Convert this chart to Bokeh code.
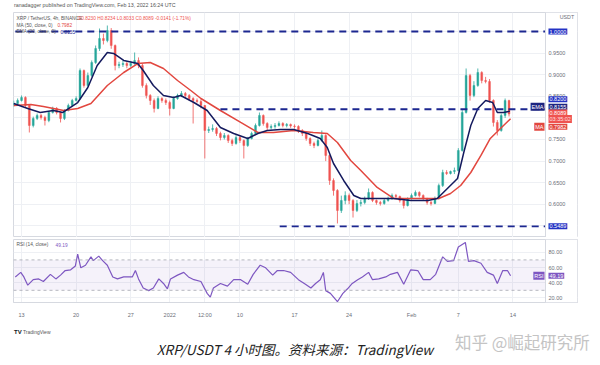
from bokeh.plotting import figure
from bokeh.layouts import column
from bokeh.models import Range1d, FixedTicker, Label, Span, BoxAnnotation, ColumnDataSource, Div
from bokeh.embed import file_html
from bokeh.resources import INLINE

# ---------------- data ----------------
# 12-hour candles, day 0 = 13 Dec 2021 00:00
candle_start_day = -1.0
candle_step_day = 0.5
first_open = 0.8310
closes = [
    0.8333, 0.8403, 0.8472, 0.8287, 0.7824, 0.7986, 0.8056, 0.8009, 0.7940, 0.8125,
    0.8218, 0.8125, 0.7986, 0.8171, 0.8287, 0.8403, 0.8449, 0.9097, 0.8750, 0.8981,
    0.9282, 0.9606, 0.9838, 0.9792, 1.0023, 0.9676, 0.9213, 0.9236, 0.9259, 0.9213,
    0.9259, 0.9329, 0.9213, 0.8750, 0.8519, 0.8403, 0.8218, 0.8449, 0.8403, 0.8356,
    0.8218, 0.8449, 0.8519, 0.8565, 0.8519, 0.8449, 0.8403, 0.8380, 0.8287, 0.7708,
    0.7731, 0.7755, 0.7639, 0.7546, 0.7593, 0.7477, 0.7407, 0.7546, 0.7477, 0.7361,
    0.7523, 0.7639, 0.7824, 0.8056, 0.7870, 0.7778, 0.7801, 0.7824, 0.7870, 0.7824,
    0.7847, 0.7812, 0.7801, 0.7708, 0.7639, 0.7523, 0.7407, 0.7361, 0.7477, 0.7593,
    0.7130, 0.6551, 0.6319, 0.5856, 0.6088, 0.6204, 0.6088, 0.5856, 0.6019, 0.6042,
    0.6134, 0.6273, 0.6088, 0.6042, 0.6019, 0.6088, 0.6134, 0.6204, 0.6181, 0.6088,
    0.5972, 0.6134, 0.6204, 0.6273, 0.6204, 0.6134, 0.6042, 0.6019, 0.6134, 0.6435,
    0.6736, 0.6713, 0.6759, 0.6782, 0.7245, 0.8125, 0.8981, 0.8519, 0.8750, 0.9051,
    0.8866, 0.8843, 0.8403, 0.7894, 0.7708, 0.8056, 0.8403, 0.8089]
highs = [
    0.8400, 0.8450, 0.8519, 0.8500, 0.8300, 0.8030, 0.8100, 0.8090, 0.8050, 0.8160,
    0.8260, 0.8250, 0.8150, 0.8200, 0.8330, 0.8440, 0.8500, 0.9144, 0.9120, 0.9050,
    0.9330, 0.9676, 1.0069, 0.9950, 1.0139, 1.0080, 0.9700, 0.9300, 0.9330, 0.9300,
    0.9320, 0.9514, 0.9400, 0.9250, 0.8800, 0.8550, 0.8450, 0.8500, 0.8480, 0.8450,
    0.8400, 0.8500, 0.8560, 0.8620, 0.8600, 0.8550, 0.8480, 0.8450, 0.8430, 0.8300,
    0.7800, 0.7850, 0.7790, 0.7680, 0.7650, 0.7620, 0.7520, 0.7600, 0.7580, 0.7500,
    0.7560, 0.7680, 0.7870, 0.8125, 0.8080, 0.7900, 0.7850, 0.7880, 0.7920, 0.7900,
    0.7880, 0.7870, 0.7850, 0.7830, 0.7740, 0.7660, 0.7550, 0.7450, 0.7520, 0.7708,
    0.7620, 0.7150, 0.6600, 0.6350, 0.6200, 0.6300, 0.6250, 0.6120, 0.6100, 0.6100,
    0.6180, 0.6366, 0.6300, 0.6110, 0.6080, 0.6130, 0.6180, 0.6250, 0.6240, 0.6200,
    0.6110, 0.6160, 0.6250, 0.6320, 0.6300, 0.6230, 0.6150, 0.6080, 0.6180, 0.6480,
    0.6800, 0.6790, 0.6780, 0.6850, 0.7300, 0.8180, 0.9144, 0.9020, 0.8850, 0.9144,
    0.9080, 0.8950, 0.8900, 0.8430, 0.7950, 0.8100, 0.8449, 0.8420]
lows = [
    0.8260, 0.8300, 0.8380, 0.8250, 0.7662, 0.7780, 0.7950, 0.7960, 0.7824, 0.7900,
    0.8100, 0.8080, 0.7894, 0.7950, 0.8150, 0.8260, 0.8380, 0.8420, 0.8700, 0.8720,
    0.8950, 0.9250, 0.9550, 0.9700, 0.9750, 0.9600, 0.9100, 0.9150, 0.9180, 0.9150,
    0.9180, 0.9230, 0.9150, 0.8700, 0.8450, 0.8300, 0.8125, 0.8200, 0.8350, 0.8300,
    0.8056, 0.8200, 0.8420, 0.8480, 0.8470, 0.8400, 0.7870, 0.8350, 0.8220, 0.7060,
    0.7650, 0.7680, 0.7580, 0.7480, 0.7500, 0.7420, 0.7350, 0.7380, 0.7420, 0.7060,
    0.7330, 0.7500, 0.7600, 0.7800, 0.7820, 0.7720, 0.7730, 0.7750, 0.7800, 0.7780,
    0.7780, 0.7770, 0.7750, 0.7650, 0.7580, 0.7470, 0.7350, 0.7300, 0.7340, 0.7450,
    0.7000, 0.6450, 0.6200, 0.5556, 0.5800, 0.6000, 0.6000, 0.5694, 0.5820, 0.5950,
    0.6000, 0.6100, 0.6050, 0.5990, 0.5970, 0.5990, 0.6060, 0.6100, 0.6130, 0.6040,
    0.5903, 0.5950, 0.6110, 0.6180, 0.6160, 0.6090, 0.5990, 0.5970, 0.6000, 0.6110,
    0.6400, 0.6680, 0.6690, 0.6700, 0.6760, 0.7220, 0.8100, 0.8400, 0.8480, 0.8720,
    0.8800, 0.8800, 0.8350, 0.7800, 0.7593, 0.7680, 0.8000, 0.8033]

ema_days = [-1.0, 0.8, 2.4, 4.1, 5.3, 7.2, 8.5, 9.7, 11.0, 11.8, 13.1, 14.9, 15.6, 16.9, 18.2,
            19.5, 20.4, 22.1, 23.8, 25.5, 27.2, 29.0, 30.3, 31.5, 33.2, 34.9, 36.7, 38.3, 39.2,
            40.0, 41.3, 42.6, 43.5, 45.1, 47.7, 49.9, 52.1, 53.3, 54.6, 55.9, 56.7, 57.6, 58.5,
            59.5, 60.4, 61.0, 61.8, 62.6]
ema_vals = [0.8333, 0.8218, 0.8125, 0.8171, 0.8125, 0.8356, 0.8704, 0.9213, 0.9514, 0.9491,
            0.9329, 0.9259, 0.9097, 0.8750, 0.8519, 0.8472, 0.8519, 0.8356, 0.8171, 0.7778,
            0.7639, 0.7523, 0.7639, 0.7708, 0.7732, 0.7732, 0.7639, 0.7523, 0.7315, 0.6944,
            0.6551, 0.6204, 0.6134, 0.6134, 0.6134, 0.6088, 0.6088, 0.6134, 0.6366, 0.6597,
            0.7199, 0.7824, 0.8218, 0.8403, 0.8356, 0.8125, 0.8125, 0.8155]
ma_days = [-1.0, 1.2, 2.8, 5.4, 7.2, 8.9, 11.0, 13.1, 14.9, 16.5, 18.2, 20.0, 21.7, 23.0, 25.5,
           28.1, 30.3, 32.3, 34.9, 37.4, 39.2, 40.5, 42.2, 43.5, 45.6, 47.7, 49.9, 52.1, 53.5,
           55.0, 56.3, 57.6, 58.9, 60.1, 61.4, 62.7]
ma_vals = [0.8287, 0.8310, 0.8264, 0.8171, 0.8218, 0.8333, 0.8750, 0.9051, 0.9259, 0.9282,
           0.9144, 0.8866, 0.8634, 0.8449, 0.8171, 0.7894, 0.7662, 0.7662, 0.7708, 0.7662,
           0.7639, 0.7431, 0.7014, 0.6782, 0.6389, 0.6134, 0.6134, 0.6134, 0.6134, 0.6250,
           0.6435, 0.6736, 0.7130, 0.7524, 0.7755, 0.7982]

rsi_days = [-0.8, -0.1, 0.3, 0.8, 1.5, 2.2, 2.8, 3.7, 4.4, 5.0,
            5.6, 6.3, 6.9, 7.2, 7.6, 8.2, 8.9, 9.2, 9.9, 10.4,
            11.0, 11.7, 12.3, 13.1, 14.2, 14.6, 15.0, 15.6, 16.3, 16.9,
            17.6, 18.2, 18.7, 19.1, 20.0, 20.8, 21.4, 22.1, 23.0, 23.8,
            24.2, 24.6, 25.5, 26.4, 27.2, 28.1, 29.0, 29.7, 30.6, 31.3,
            32.2, 32.8, 33.6, 34.5, 35.5, 36.4, 37.1, 37.7, 38.3, 38.7,
            39.0, 39.6, 40.5, 41.2, 41.8, 42.4, 43.1, 43.7, 44.5, 45.0,
            45.8, 46.7, 47.3, 48.2, 49.0, 49.9, 50.8, 51.5, 52.4, 53.1,
            54.0, 54.6, 55.4, 56.0, 56.9, 57.3, 58.0, 58.9, 59.7, 60.5,
            61.0, 61.7, 62.3, 62.7]
rsi_vals = [47.6, 53.6, 47.6, 36.8, 44.0, 45.0, 41.6, 51.0, 45.0, 50.0,
            56.0, 57.0, 62.0, 77.6, 59.6, 63.0, 74.0, 69.0, 75.0, 69.0,
            63.0, 47.6, 45.0, 47.6, 47.6, 56.0, 45.0, 33.0, 29.6, 33.0,
            45.0, 39.0, 32.0, 45.0, 50.0, 53.6, 47.6, 44.0, 41.6, 26.0,
            21.0, 33.0, 39.0, 35.6, 44.0, 44.0, 38.0, 51.0, 63.0, 59.6,
            50.0, 56.0, 56.0, 53.6, 44.0, 38.0, 33.0, 39.0, 44.0, 53.6,
            29.6, 26.0, 15.0, 26.0, 32.0, 39.0, 44.0, 47.6, 53.6, 44.0,
            45.0, 47.6, 51.0, 53.6, 38.0, 57.0, 56.0, 44.0, 44.0, 51.0,
            74.0, 68.0, 69.0, 87.0, 93.0, 68.0, 69.0, 65.6, 53.6, 50.0,
            39.0, 56.0, 56.0, 49.19]

level_vals = [1.0000, 0.8200, 0.5489]
level_start_days = [-0.8, 25.5, 33.1]

price_ticks = [0.60, 0.65, 0.70, 0.75, 0.85, 0.90, 0.95]
price_grid = [0.55, 0.60, 0.65, 0.70, 0.75, 0.80, 0.85, 0.90, 0.95, 1.00]
rsi_ticks = [20, 40, 60, 80]
rsi_band = [30, 70]
x_tick_days = [0, 7, 14, 19, 23.5, 28, 35, 42, 50, 56, 63]
x_tick_labels = ["13", "20", "27", "2022", "12:00", "10", "17", "24", "Feb", "7", "14"]

last_ema, last_ma, last_close, last_rsi = 0.8155, 0.7982, 0.8089, 49.19

# ---------------- styling ----------------
UP, DOWN = "#26a69a", "#ef5350"
NAVY = "#1c2790"
BOX_BLUE = "#2433c4"
EMA_C, MA_C = "#141a5e", "#e2473f"
RSI_C = "#7e57c2"
GRID = "#eef0f4"
BORDER = "#d6d9e0"
TXT = "#6b6e78"
FONT = "Liberation Sans"
X0, X_SCALE, X_END = -1.03, 67.18, 71.28   # chart area | price scale area
AX_X = 67.56      # left edge of price-scale texts
TAG_X = 67.05     # right edge of tags inside the chart area

n = len(closes)
days = [candle_start_day + candle_step_day * i for i in range(n)]
opens = [first_open] + closes[:-1]
src = ColumnDataSource(dict(
    x=days, h=highs, l=lows,
    top=[max(o, c) for o, c in zip(opens, closes)],
    bot=[min(o, c) for o, c in zip(opens, closes)],
    col=[UP if c >= o else DOWN for o, c in zip(opens, closes)]))


def lab(fig, x, y, text, color, size="5px", bg=None, align="left", yoff=0,
        font=FONT, style="normal"):
    kw = dict(x=x, y=y, text=text, text_color=color, text_font_size=size,
              text_align=align, text_baseline="middle", y_offset=yoff,
              text_font=font, text_font_style=style)
    if bg:
        kw.update(background_fill_color=bg, padding=1)
    fig.add_layout(Label(**kw))


def scale_area(fig):
    fig.add_layout(BoxAnnotation(left=X_SCALE, fill_color="white", fill_alpha=1.0,
                                 line_color=None))
    fig.add_layout(Span(location=X_SCALE, dimension="height", line_color=BORDER,
                        line_width=1))


# ---------------- header ----------------
hdr = Div(text='<div style="position:relative;width:600px;height:12px;">'
               '<span style="position:absolute;left:14px;top:3px;font-family:\'Liberation Sans\';'
               'font-size:5.3px;line-height:1;color:#555;white-space:nowrap;">'
               'ranadagger published on TradingView.com, Feb 13, 2022 16:24 UTC</span></div>',
          width=600, height=12, margin=0)

# ---------------- price panel ----------------
p = figure(width=600, height=225, x_range=Range1d(X0, X_END), y_range=Range1d(0.5231, 1.0440),
           output_backend="svg", toolbar_location=None, x_axis_location=None,
           y_axis_location=None, min_border_left=13, min_border_right=23,
           min_border_top=0, min_border_bottom=0)
p.outline_line_color = BORDER
p.ygrid.ticker = FixedTicker(ticks=price_grid)
p.xgrid.ticker = FixedTicker(ticks=x_tick_days)
p.grid.grid_line_color = GRID

p.segment(x0="x", y0="l", x1="x", y1="h", line_color="col", line_width=0.8, source=src)
p.vbar(x="x", width=0.24, top="top", bottom="bot", fill_color="col", line_color="col",
       line_width=0.4, source=src)
p.line(ma_days, ma_vals, line_color=MA_C, line_width=1.5)
p.line(ema_days, ema_vals, line_color=EMA_C, line_width=1.5)
p.segment(x0=level_start_days, y0=level_vals, x1=[X_SCALE] * len(level_vals), y1=level_vals,
          line_color=NAVY, line_width=1.8, line_dash="7 5")
scale_area(p)

# legend texts
lab(p, -0.64, 1.0301, "XRP / TetherUS, 4h, BINANCE", "#555", size="4.8px")
lab(p, 7.18, 1.0301, "O0.8230  H0.8234  L0.8033  C0.8089  -0.0141 (-1.71%)", DOWN, size="4.8px")
lab(p, -0.64, 1.0150, "MA (50, close, 0)", "#555", size="4.8px")
lab(p, 4.6, 1.0150, f"{last_ma:.4f}", MA_C, size="4.8px")
lab(p, -0.64, 1.0000, "EMA (20, close, 0)", "#555", size="4.8px")
lab(p, 5.0, 1.0000, f"{last_ema:.4f}", NAVY, size="4.8px")

# price scale
lab(p, 69.0, 1.0347, "USDT", TXT, size="5.3px")
for t in price_ticks:
    lab(p, AX_X, t, f"{t:.4f}", TXT, size="5.5px")
lab(p, AX_X, level_vals[0], f"{level_vals[0]:.4f}", "white", size="5.5px", bg=BOX_BLUE)
lab(p, AX_X, level_vals[1], f"{level_vals[1]:.4f}", "white", size="5.5px", bg=BOX_BLUE, yoff=10)
lab(p, AX_X, last_ema, f"{last_ema:.4f}", "white", size="5.5px", bg="#1d2480", yoff=4.5)
lab(p, TAG_X, last_ema, "EMA", "white", size="5.5px", bg="#1d2480", align="right", yoff=4.5)
lab(p, AX_X, last_close, f"{last_close:.4f}", "white", size="5.5px", bg=DOWN, yoff=1.5)
lab(p, AX_X, last_close, "03:35:02", "#ffe0e0", size="5.5px", bg=DOWN, yoff=-5)
lab(p, AX_X, last_ma, f"{last_ma:.4f}", "white", size="5.5px", bg=MA_C, yoff=-8)
lab(p, TAG_X, last_ma, "MA", "white", size="5.5px", bg=MA_C, align="right", yoff=-8)
lab(p, AX_X, level_vals[2], f"{level_vals[2]:.4f}", "white", size="5.5px", bg=BOX_BLUE)

# ---------------- RSI panel ----------------
r = figure(width=600, height=83, x_range=p.x_range, y_range=Range1d(14.0, 96.8),
           output_backend="svg", toolbar_location=None, y_axis_location=None,
           min_border_left=13, min_border_right=23, min_border_top=2, min_border_bottom=12)
r.outline_line_color = BORDER
r.xaxis.ticker = FixedTicker(ticks=x_tick_days)
r.xaxis.major_label_overrides = {d: t for d, t in zip(x_tick_days, x_tick_labels)}
r.xaxis.major_tick_line_color = None
r.xaxis.minor_tick_line_color = None
r.xaxis.major_label_text_font_size = "5.5px"
r.xaxis.major_label_text_color = TXT
r.xaxis.major_label_text_font = FONT
r.xaxis.axis_line_color = BORDER
r.xaxis.major_label_standoff = 3
r.ygrid.ticker = FixedTicker(ticks=rsi_ticks)
r.grid.grid_line_color = GRID

r.add_layout(BoxAnnotation(bottom=rsi_band[0], top=rsi_band[1], right=X_SCALE,
                           fill_color=RSI_C, fill_alpha=0.08, line_color=None))
for lv in rsi_band:
    r.add_layout(Span(location=lv, dimension="width", line_color="#a3a6b0",
                      line_width=0.8, line_dash="3 3"))
r.line(rsi_days, rsi_vals, line_color=RSI_C, line_width=1.2)
scale_area(r)

lab(r, -0.64, 89.6, "RSI (14, close)", "#555", size="4.8px")
lab(r, 4.36, 89.6, f"{last_rsi:.2f}", RSI_C, size="4.8px")
for t in rsi_ticks:
    lab(r, AX_X, t, f"{t:.2f}", TXT, size="5.5px")
lab(r, TAG_X, last_rsi, "RSI", "white", size="5.5px", bg=RSI_C, align="right")
lab(r, AX_X, last_rsi, f"{last_rsi:.2f}", "white", size="5.5px", bg=RSI_C)

# ---------------- caption ----------------
cap = Div(text=(
    '<div style="position:relative;width:600px;height:45px;overflow:hidden;">'
    '<span style="position:absolute;left:14px;top:9px;font-family:\'Liberation Sans\';'
    'font-weight:bold;font-size:6px;line-height:1;color:#131722;">TV</span>'
    '<span style="position:absolute;left:23px;top:9.5px;font-family:\'Liberation Sans\';'
    'font-size:5px;line-height:1;color:#555;">TradingView</span>'
    '<span style="position:absolute;left:0;width:590px;text-align:center;top:23px;'
    'font-family:\'Noto Sans CJK SC\';font-style:italic;font-size:13.5px;line-height:1;'
    'color:#222;white-space:nowrap;">XRP/USDT 4 小时图。资料来源：TradingView</span>'
    '<span style="position:absolute;left:455px;top:14px;font-family:\'Noto Sans CJK SC\';'
    'font-size:16.5px;line-height:1;color:#c4c4c4;white-space:nowrap;">知乎 @崛起研究所</span>'
    '</div>'), width=600, height=45, margin=0)

layout = column(hdr, p, r, cap, spacing=0)
open("out.html", "w").write(file_html(layout, INLINE))
